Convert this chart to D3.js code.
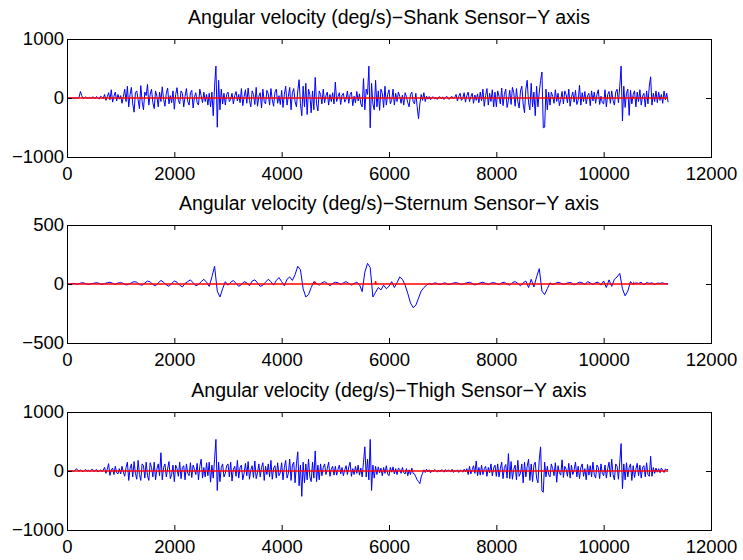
<!DOCTYPE html>
<html>
<head>
<meta charset="utf-8">
<script src="https://cdn.jsdelivr.net/npm/d3@7"></script>
<style>
  body { margin: 0; background: #fff; }
  svg text { font-family: "Liberation Sans", Arial, Helvetica, sans-serif; fill: #000; }
</style>
</head>
<body>
<svg id="fig" width="743" height="560"></svg>
<script>
//////////////// Daten ////////////////////
// readings taken off the figure, one every *Step samples
const shankStep = 25, sternumStep = 50, thighStep = 25;
const xTicks = [0, 2000, 4000, 6000, 8000, 10000, 12000];

const titles = [
  "Angular velocity (deg/s)\u2212Shank Sensor\u2212Y axis",
  "Angular velocity (deg/s)\u2212Sternum Sensor\u2212Y axis",
  "Angular velocity (deg/s)\u2212Thigh Sensor\u2212Y axis"
];

const shankTicks = [-1000, 0, 1000];
const sternumTicks = [-500, 0, 500];
const thighTicks = [-1000, 0, 1000];

const shankY = [
  0,0,0,0,0,0,0,0,-5,10,110,40,-10,5,20,-5,0,15,-10,20,
  10,-15,25,5,-20,30,15,-10,60,-40,20,90,-30,140,-70,30,100,-50,60,-20,
  40,-90,20,150,-60,200,-150,60,180,-100,-240,90,120,-30,-180,210,-60,-200,100,40,
  230,-120,60,150,-80,-180,120,30,-150,100,-60,190,-20,-140,80,170,-100,40,-80,120,
  -190,60,175,-40,-100,120,80,-150,30,160,-60,-120,90,130,-170,20,90,-80,-120,150,
  40,-80,100,-60,60,-120,80,-150,100,-300,200,540,-495,300,-200,150,-100,80,-120,60,
  100,-60,-20,80,-100,40,110,-50,60,-80,160,-130,20,140,-90,170,-40,-150,120,60,
  -110,180,-140,30,90,-170,150,-60,-100,130,70,-120,160,-30,-140,100,150,-90,40,-110,
  130,-160,60,200,-120,30,180,-200,90,160,-60,-150,120,310,-100,-300,200,-150,250,-280,
  150,60,-250,120,-200,350,-100,-220,120,60,-100,150,-80,40,100,-120,60,-60,90,-100,
  270,-60,20,90,-110,50,80,-70,-20,120,-90,60,100,-130,30,-80,110,-50,70,-100,
  -150,330,-200,150,60,540,-505,250,-100,-200,300,-150,120,-210,150,80,-160,200,-120,60,
  140,-100,-40,150,-120,80,-60,100,30,-90,50,-120,90,20,-80,-150,60,100,-60,-100,
  80,-150,-350,-100,60,-40,90,-60,30,-20,25,-30,10,20,-15,5,-25,15,20,-15,
  20,-25,10,30,-10,-20,15,25,-15,10,60,-50,30,80,-40,-10,90,-70,40,100,
  -60,20,80,-90,50,-40,70,-80,100,-50,150,-140,40,160,-120,80,-60,140,-150,100,
  -150,120,30,-100,170,-130,60,150,-160,-40,130,-110,180,90,-140,160,-60,-170,120,200,
  -100,-250,150,300,-80,-200,250,-150,100,-300,200,-150,100,300,440,-505,-495,150,-200,100,
  -120,100,30,-90,140,-60,80,-130,-30,110,-100,120,60,-80,150,-140,20,100,-70,130,
  -110,-40,215,-120,90,-60,110,-100,40,80,-130,120,-50,100,-90,60,140,-110,30,-80,
  -100,140,-150,60,110,-90,120,-40,-120,100,150,-80,200,540,-390,200,-160,80,150,-295,
  130,-100,60,120,-150,100,-60,140,-120,30,80,-150,120,-100,200,360,-120,80,-60,120,
  -80,100,-40,60,-90,120,-30,80,-70
];

const sternumY = [
  0,0,5,3,-2,8,10,4,-5,2,6,12,5,-3,4,10,15,6,-4,8,
  12,5,-8,-3,10,20,15,-5,-10,8,25,18,-5,-15,10,30,15,-8,-20,5,
  25,15,-10,-25,5,20,35,10,-15,-5,20,40,15,-20,60,150,-60,-110,-40,20,
  -10,15,30,5,-20,-5,20,10,-15,25,35,10,-20,-10,15,40,20,-10,30,55,
  20,-15,40,60,30,80,150,120,-40,-110,-90,-30,20,5,-10,10,20,5,-15,5,
  15,10,-5,10,20,5,-10,5,15,-5,-65,100,175,140,-110,-70,-30,-50,-10,-40,
  -20,20,-30,10,60,40,-10,-80,-160,-200,-180,-120,-60,-30,-10,5,-5,10,5,-5,
  5,10,-5,0,8,12,5,-5,3,10,15,5,-8,0,10,15,5,-5,8,12,
  5,-5,10,15,0,-10,12,20,5,-15,10,25,-30,40,-25,60,130,-60,-90,-40,
  10,-5,5,15,8,-5,5,12,10,-8,5,15,10,-5,20,10,-5,12,15,-10,
  25,-30,35,-20,40,60,90,-40,-100,-60,20,-5,10,5,15,-8,12,5,10,-5,
  8,5,10,0,5
];

const thighY = [
  0,0,0,0,5,-5,10,40,15,-10,20,5,-15,10,25,-5,15,-10,20,30,
  -10,10,25,-15,5,20,-10,15,60,-40,30,125,-75,20,50,-60,80,-30,-50,40,
  -50,80,-20,-90,60,150,-160,40,120,-100,160,-40,-140,180,-60,-160,120,90,-120,150,
  -80,-160,140,60,-100,150,-150,30,120,-80,310,-150,60,120,-100,40,160,-130,-60,100,
  -180,100,40,-90,150,-130,60,90,-150,120,-40,-80,140,-110,100,30,-60,130,-150,80,
  200,-120,60,-100,140,-80,150,-190,100,-120,200,535,-330,150,-180,60,120,-100,-40,90,
  120,-100,150,-170,30,80,-90,180,-120,60,100,-150,-40,130,-80,160,-140,20,90,-110,
  170,-130,-30,120,-100,60,140,-160,80,-60,120,-100,180,-140,50,90,-120,140,-80,-30,
  140,-150,60,180,-120,-40,200,-160,100,150,-200,120,325,-250,100,-430,150,-200,120,-150,
  200,-100,-180,150,-120,340,-180,100,-150,120,-80,60,120,-60,40,150,-90,30,80,-70,
  80,-70,30,100,-50,60,-80,20,90,-60,70,150,-90,40,-60,80,-40,100,-70,50,
  -100,150,410,-100,200,-150,535,-330,100,-120,80,-60,70,-30,50,-80,60,-40,90,-50,
  -80,60,-20,70,-50,40,-60,50,30,-40,60,-30,-50,40,-80,20,-60,50,-40,-50,
  -100,-150,-180,-215,-100,-40,20,-25,30,-15,20,-30,15,-10,25,5,-20,15,-15,20,
  15,-20,25,-10,20,5,-15,30,-25,10,-10,20,-25,15,10,-20,30,-15,40,-60,
  80,-50,20,90,-40,170,-80,60,-70,100,-60,40,80,-90,60,-30,120,-80,50,100,
  -90,120,-100,40,150,-130,60,110,-120,295,-130,160,-140,30,100,-150,180,-90,-40,120,
  -200,150,-100,80,200,-160,120,-180,100,150,-120,-200,200,410,-340,-360,150,-100,80,-60,
  -100,120,40,-80,140,-190,90,-30,-70,190,-110,80,30,-90,130,-120,100,-60,20,150,
  -100,80,-130,60,120,-90,40,-150,110,-70,90,-100,150,-60,-120,100,60,-130,120,-40,
  -80,100,-120,40,150,-100,200,-60,-150,120,80,-140,150,465,-300,120,-150,140,-100,60,
  120,-160,90,-110,30,130,-80,100,-120,60,90,-100,140,-60,-90,250,-90,60,-40,50,
  -20,40,-30,50,10,-25,35,20,30
];

// red reference line: zero, with a few small marks [sample, value]
const redEnd = 11200;
const shankRed = [[10550, 15]];
const sternumRed = [[4620, 20], [5750, 25], [10560, 10]];
const thighRed = [];

//////////////// Layout ////////////////////
const left = 67, right = 711,
  panelTops = [39, 225, 412],
  panelH = 118,
  tickLen = 5;

const panels = [
  {title: titles[0], values: shankY, step: shankStep, ticks: shankTicks, red: shankRed},
  {title: titles[1], values: sternumY, step: sternumStep, ticks: sternumTicks, red: sternumRed},
  {title: titles[2], values: thighY, step: thighStep, ticks: thighTicks, red: thighRed}
];

const svg = d3.select("#fig");

const x = d3.scaleLinear()
  .domain([xTicks[0], xTicks[xTicks.length - 1]])
  .range([left, right]);

function styleAxis(a, withText) {
  a.select(".domain").remove();
  a.selectAll("line").attr("stroke", "#000");
  if (withText) a.selectAll("text").style("font-size", "18.5px");
}

panels.forEach(function(p, k) {
  const top = panelTops[k], bottom = top + panelH;
  const y = d3.scaleLinear()
    .domain([p.ticks[0], p.ticks[p.ticks.length - 1]])
    .range([bottom, top]);

  const g = svg.append("g").attr("class", "panel");

  // blue signal
  g.append("path")
    .datum(p.values)
    .attr("fill", "none")
    .attr("stroke", "#0000ff")
    .attr("stroke-width", 1)
    .attr("stroke-linejoin", "round")
    .attr("d", d3.line()
      .x(function(d, i) { return x(i * p.step); })
      .y(function(d) { return y(d); }));

  // red line on top
  let redPts = [[0, 0]];
  p.red.forEach(function(m) {
    redPts.push([m[0] - 10, 0], [m[0], m[1]], [m[0] + 10, 0]);
  });
  redPts.push([redEnd, 0]);
  g.append("path")
    .datum(redPts)
    .attr("fill", "none")
    .attr("stroke", "#ff0000")
    .attr("stroke-width", 1.3)
    .attr("d", d3.line()
      .x(function(d) { return x(d[0]); })
      .y(function(d) { return y(d[1]); }));

  // axes, ticks pointing inward (MATLAB style)
  g.append("g")
    .attr("transform", "translate(0," + bottom + ")")
    .call(d3.axisBottom(x).tickValues(xTicks).tickFormat(d3.format("d"))
      .tickSizeInner(-tickLen).tickSizeOuter(0).tickPadding(10))
    .call(styleAxis, true);
  g.append("g")
    .attr("transform", "translate(0," + top + ")")
    .call(d3.axisTop(x).tickValues(xTicks).tickFormat("")
      .tickSizeInner(-tickLen).tickSizeOuter(0))
    .call(styleAxis, false);
  g.append("g")
    .attr("transform", "translate(" + left + ",0)")
    .call(d3.axisLeft(y).tickValues(p.ticks).tickFormat(d3.format("d"))
      .tickSizeInner(-tickLen).tickSizeOuter(0).tickPadding(3))
    .call(styleAxis, true);
  g.append("g")
    .attr("transform", "translate(" + right + ",0)")
    .call(d3.axisRight(y).tickValues(p.ticks).tickFormat("")
      .tickSizeInner(-tickLen).tickSizeOuter(0))
    .call(styleAxis, false);

  // box
  g.append("rect")
    .attr("x", left + 0.5)
    .attr("y", top + 0.5)
    .attr("width", right - left)
    .attr("height", panelH)
    .attr("fill", "none")
    .attr("stroke", "#000")
    .attr("stroke-width", 1);

  // title
  g.append("text")
    .attr("x", (left + right) / 2)
    .attr("y", top - 15)
    .attr("text-anchor", "middle")
    .style("font-size", "19.5px")
    .text(p.title);
});
</script>
</body>
</html>
